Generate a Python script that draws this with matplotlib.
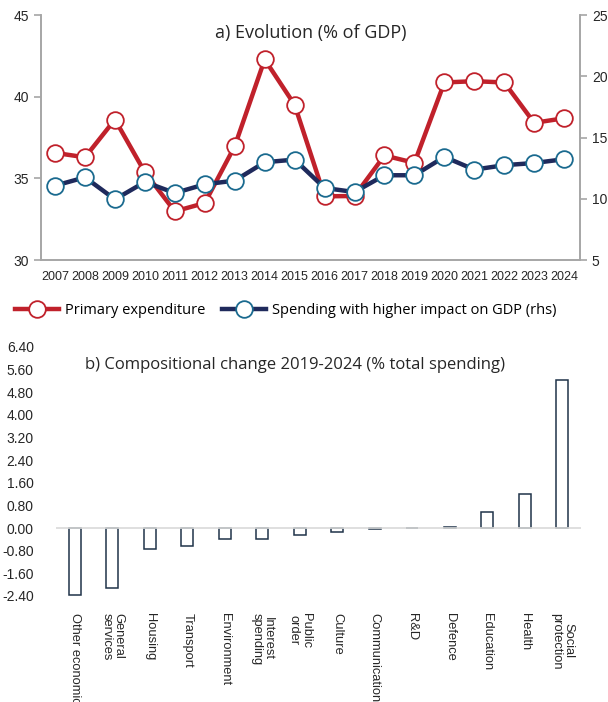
import matplotlib.pyplot as plt

years = list(range(2007, 2025))
primary_exp = [36.56, 36.29, 38.6, 35.37, 32.98, 33.49, 36.97, 42.28, 39.5,
               33.9, 33.92, 36.4, 35.95, 40.87, 40.95, 40.87, 38.4, 38.68]
high_impact = [11.07, 11.75, 9.95, 11.37, 10.47, 11.18, 11.48, 12.98, 13.2,
               10.88, 10.55, 11.92, 11.92, 13.42, 12.38, 12.74, 12.92, 13.23]

categories = ["Other economic", "General\nservices", "Housing", "Transport",
              "Environment", "Interest\nspending", "Public\norder", "Culture",
              "Communication", "R&D", "Defence", "Education", "Health",
              "Social\nprotection"]
change = [-2.36, -2.10, -0.74, -0.65, -0.39, -0.38, -0.26, -0.13,
          -0.03, 0.0, 0.03, 0.58, 1.19, 5.24]

red = "#c0212b"
navy = "#1f2a5c"
teal = "#1a6a8f"
grey = "#a6a6a6"
txt = "#262626"

plt.rcParams["font.family"] = ["Liberation Sans", "DejaVu Sans"]

fig = plt.figure(figsize=(6.08, 7.02), dpi=100)

# ---- a) evolution ----
ax = fig.add_axes([0.0674, 0.6296, 0.8866, 0.349])
ax2 = ax.twinx()
ax.plot(years, primary_exp, color=red, lw=3.2, marker="o", ms=12,
        mfc="white", mec=red, mew=1.3, label="Primary expenditure", zorder=3)
ax2.plot(years, high_impact, color=navy, lw=3.2, marker="o", ms=12,
         mfc="white", mec=teal, mew=1.3,
         label="Spending with higher impact on GDP (rhs)", zorder=3)
ax.set_xlim(2006.53, 2024.53)
ax.set_ylim(30, 45)
ax2.set_ylim(5, 25)
ax.set_yticks([30, 35, 40, 45])
ax2.set_yticks([5, 10, 15, 20, 25])
ax.set_xticks(years)
for a in (ax, ax2):
    a.spines["top"].set_visible(False)
    for s in ("left", "right", "bottom"):
        a.spines[s].set_color(grey)
        a.spines[s].set_linewidth(1.2)
    a.tick_params(axis="y", colors=grey, labelcolor=txt, labelsize=10,
                  length=5, width=1.2)
ax.tick_params(axis="x", length=0, labelsize=9, labelcolor=txt, pad=8)
ax.text(0.5, 0.965, "a) Evolution (% of GDP)", transform=ax.transAxes,
        ha="center", va="top", fontsize=13, color=txt,
        family=["Open Sans", "DejaVu Sans"])

h1, l1 = ax.get_legend_handles_labels()
h2, l2 = ax2.get_legend_handles_labels()
fig.legend(h1 + h2, l1 + l2, loc="center", bbox_to_anchor=(0.47, 0.558),
           ncol=2, frameon=False, handlelength=3,
           columnspacing=1.2, handletextpad=0.4,
           prop={"family": ["Open Sans", "DejaVu Sans"], "size": 10.5})

# ---- b) compositional change ----
bx = fig.add_axes([0.0921, 0.151, 0.8635, 0.3547])
x = range(len(categories))
bx.bar(x, change, width=0.32, color="white", edgecolor="#1f3349", lw=1.1,
       zorder=3)
bx.axhline(0, color="#d9d9d9", lw=1.2, zorder=4)
bx.set_xlim(-0.5, 13.5)
bx.set_ylim(-2.4, 6.4)
bx.set_yticks([-2.4 + 0.8 * i for i in range(12)])
bx.set_yticklabels([f"{-2.4 + 0.8 * i:.2f}" for i in range(12)])
for s in bx.spines.values():
    s.set_visible(False)
bx.tick_params(axis="y", length=0, pad=16, labelsize=10, labelcolor=txt)
bx.set_xticks(list(x))
bx.set_xticklabels(categories, rotation=270, fontsize=9.3, color=txt,
                   va="top", ha="center", linespacing=0.95)
bx.tick_params(axis="x", length=0, pad=12)
bx.text(0.455, 0.96, "b) Compositional change 2019-2024 (% total spending)",
        transform=bx.transAxes, ha="center", va="top", fontsize=12,
        color=txt, family=["Open Sans", "DejaVu Sans"])

fig.savefig("out.png", dpi=100)
